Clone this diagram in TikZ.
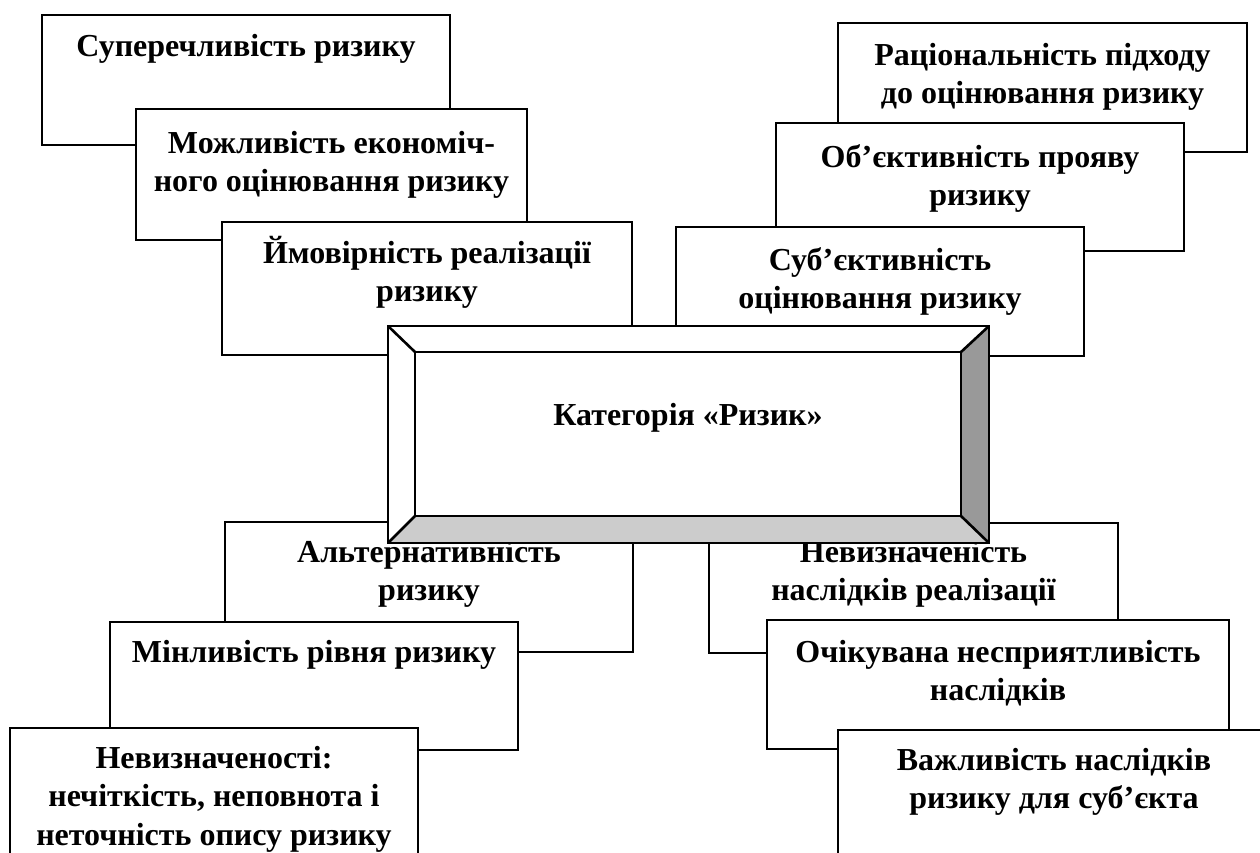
\documentclass[tikz,border=0pt]{standalone}
\usepackage{fontspec}
\setmainfont{Liberation Serif}
\newcommand\cardfont{\fontsize{32}{38.5}\selectfont\bfseries}
\definecolor{bevellight}{HTML}{CCCCCC}
\definecolor{beveldark}{HTML}{999999}
\tikzset{
  card/.style={draw=black, line width=2.6pt, fill=white, rectangle,
    inner sep=0pt, outer sep=0pt, anchor=north west},
  cardtext/.style={anchor=north, inner sep=0pt, align=center, font=\cardfont},
  edge/.style={draw=black, line width=2.6pt, line join=miter}
}
\begin{document}
\begin{tikzpicture}[x=1pt, y=-1pt]
\useasboundingbox[fill=white] (0,0) rectangle (1260,853);
\clip (0,0) rectangle (1260,853);

% upper left stack
\node[card, minimum width=408pt, minimum height=130pt] (a1) at (42,15) {};
\node[cardtext] (ta1) at ([yshift=-14pt]a1.north) {\strut Суперечливість ризику};
\node[card, minimum width=391pt, minimum height=131pt] (a2) at (136,109) {};
\node[cardtext] (ta2) at ([yshift=-17pt]a2.north) {\strut Можливість економіч-\\ного оцінювання ризику};
\node[card, minimum width=410pt, minimum height=133pt] (a3) at (222,222) {};
\node[cardtext] (ta3) at ([yshift=-14pt]a3.north) {\strut Ймовірність реалізації\\ризику};

% upper right stack
\node[card, minimum width=409pt, minimum height=129pt] (b1) at (838,23) {};
\node[cardtext] (tb1) at ([yshift=-15pt]b1.north) {\strut Раціональність підходу\\до оцінювання ризику};
\node[card, minimum width=408pt, minimum height=128pt] (b2) at (776,123) {};
\node[cardtext] (tb2) at ([yshift=-17pt]b2.north) {\strut Об’єктивність прояву\\ризику};
\node[card, minimum width=408pt, minimum height=129pt] (b3) at (676,227) {};
\node[cardtext] (tb3) at ([yshift=-16pt]b3.north) {\strut Суб’єктивність\\оцінювання ризику};

% boxes tucked behind the central frame
\node[card, minimum width=408pt, minimum height=130pt] (c1) at (225,522) {};
\node[cardtext] (tc1) at ([yshift=-13pt]c1.north) {\strut Альтернативність\\ризику};
\node[card, minimum width=409pt, minimum height=130pt] (d1) at (709,523) {};
\node[cardtext] (td1) at ([yshift=-12pt]d1.north) {\strut Невизначеність\\наслідків реалізації};

% central bevelled frame
\node[card, minimum width=601pt, minimum height=217pt] (core) at (388,326) {};
\node[inner sep=0pt, outer sep=0pt, minimum width=546pt, minimum height=164pt,
      anchor=north west] (face) at (415,352) {};
\fill[bevellight] (core.south west) -- (core.south east) -- (face.south east) -- (face.south west) -- cycle;
\fill[beveldark] (core.north east) -- (core.south east) -- (face.south east) -- (face.north east) -- cycle;
\draw[edge] (core.north west) rectangle (core.south east);
\draw[edge] (face.north west) rectangle (face.south east);
\draw[edge] (core.north west) -- (face.north west);
\draw[edge] (core.north east) -- (face.north east);
\draw[edge] (core.south west) -- (face.south west);
\draw[edge] (core.south east) -- (face.south east);
\node[anchor=base, inner sep=0pt, font=\cardfont] (title) at ([yshift=9pt]face.center) {Категорія «Ризик»};

% lower left stack
\node[card, minimum width=408pt, minimum height=128pt] (c2) at (110,622) {};
\node[cardtext] (tc2) at ([yshift=-13pt]c2.north) {\strut Мінливість рівня ризику};
\node[card, minimum width=408pt, minimum height=200pt] (c3) at (10,728) {};
\node[cardtext] (tc3) at ([yshift=-13pt]c3.north) {\strut Невизначеності:\\нечіткість, неповнота і\\неточність опису ризику};

% lower right stack
\node[card, minimum width=462pt, minimum height=129pt] (d2) at (767,620) {};
\node[cardtext] (td2) at ([yshift=-15pt]d2.north) {\strut Очікувана несприятливість\\наслідків};
\node[card, minimum width=432pt, minimum height=200pt] (d3) at (838,730) {};
\node[cardtext] (td3) at ([yshift=-13pt]d3.north) {\strut Важливість наслідків\\ризику для суб’єкта};
\end{tikzpicture}
\end{document}
